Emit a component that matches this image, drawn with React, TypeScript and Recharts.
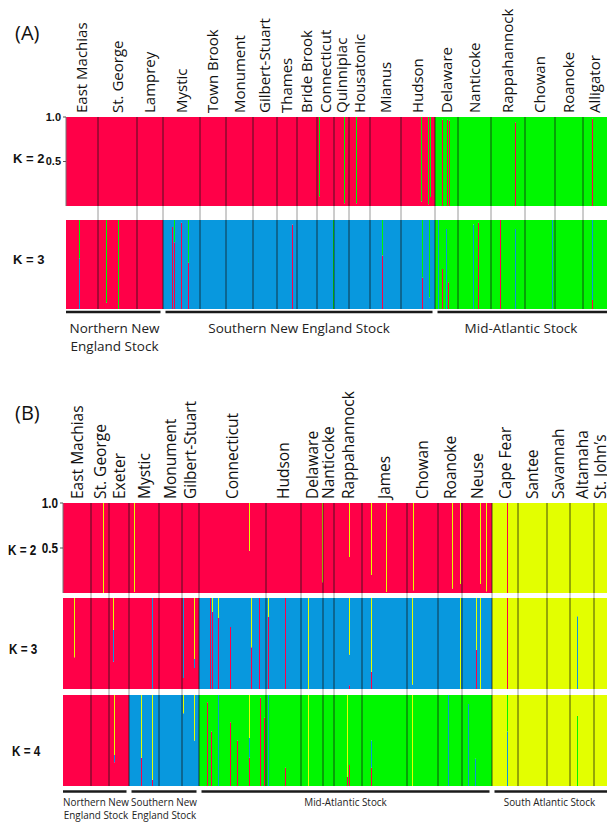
import React from 'react';
import { AreaChart, Area, XAxis, YAxis, ReferenceLine } from 'recharts';

const RED = '#FF0048';
const BLUE = '#0898DE';
const GREEN = '#00F700';
const YELLOW = '#E3FF00';

// Panel A: populations, estimated sample counts, cluster of each population per K
const popsA = ['East Machias', 'St. George', 'Lamprey', 'Mystic', 'Town Brook', 'Monument', 'Gilbert-Stuart', 'Thames', 'Bride Brook', 'Connecticut', 'Quinnipiac', 'Housatonic', 'Mianus', 'Hudson', 'Delaware', 'Nanticoke', 'Rappahannock', 'Chowan', 'Roanoke', 'Alligator'];
const sizesA = [32, 39, 26, 37, 26, 27, 24, 20, 20, 17, 15, 21, 31, 34, 23, 33, 34, 30, 28, 24];
const clusterA2 = [0, 0, 0, 0, 0, 0, 0, 0, 0, 0, 0, 0, 0, 0, 1, 1, 1, 1, 1, 1];
const clusterA3 = [0, 0, 0, 1, 1, 1, 1, 1, 1, 1, 1, 1, 1, 1, 2, 2, 2, 2, 2, 2];
// admixed individuals: [position, q1, q2, ...]
const admixA2 = [
  [253, 0.11, 0.89], [278, 0.03, 0.97], [290, 0.03, 0.97], [355, 0.05, 0.95],
  [362, 0.02, 0.98], [364, 0.1, 0.9], [376, 0.97, 0.03], [381, 0.97, 0.03],
  [383, 0.96, 0.04], [449, 0.94, 0.06], [526, 0.98, 0.02],
];
const admixA3 = [
  [13, 0, 0.57, 0.43], [40, 0.07, 0, 0.93], [52, 0, 0, 1], [106, 0.92, 0.08, 0],
  [108, 0.75, 0, 0.25], [115, 0.97, 0.03, 0], [122, 0.52, 0, 0.48], [226, 0.95, 0.05, 0],
  [267, 0, 0, 1], [316, 0.6, 0, 0.4], [356, 0.35, 0, 0.65], [363, 0, 0.13, 0.87],
  [372, 0, 1, 0], [376, 0.45, 0, 0.55], [380, 0, 0.9, 0.1], [382, 0.3, 0, 0.7],
  [407, 0, 0.95, 0.05], [412, 0.97, 0, 0.03], [434, 1, 0, 0], [449, 0, 0.9, 0.1],
  [486, 0, 1, 0], [526, 0.1, 0.9, 0],
];
const stockNamesA = ['Northern New\nEngland Stock', 'Southern New England Stock', 'Mid-Atlantic Stock'];
const stockSpansA = [[0, 3], [3, 14], [14, 20]];

// Panel B
const popsB = ['East Machias', 'St. George', 'Exeter', 'Mystic', 'Monument', 'Gilbert-Stuart', 'Connecticut', 'Hudson', 'Delaware', 'Nanticoke', 'Rappahannock', 'James', 'Chowan', 'Roanoke', 'Neuse', 'Cape Fear', 'Santee', 'Savannah', 'Altamaha', 'St. John\u2019s'];
const sizesB = [28, 18, 20, 30, 23, 17, 67, 35, 22, 11, 28, 45, 31, 24, 30, 26, 29, 23, 24, 13];
const clusterB2 = [0, 0, 0, 0, 0, 0, 0, 0, 0, 0, 0, 0, 0, 0, 0, 1, 1, 1, 1, 1];
const clusterB3 = [0, 0, 0, 0, 0, 0, 1, 1, 1, 1, 1, 1, 1, 1, 1, 2, 2, 2, 2, 2];
const clusterB4 = [0, 0, 0, 1, 1, 1, 2, 2, 2, 2, 2, 2, 2, 2, 2, 3, 3, 3, 3, 3];
const admixB2 = [
  [40, 0, 1], [71, 0.01, 0.99], [186, 0.47, 0.53], [259, 0.12, 0.88], [286, 0.4, 0.6],
  [308, 0.2, 0.8], [323, 0.01, 0.99], [350, 0.03, 0.97], [389, 0.05, 0.95],
  [397, 0.1, 0.9], [417, 0.1, 0.9], [423, 0.02, 0.98], [444, 1, 0],
];
const admixB3 = [
  [11, 0.35, 0, 0.65], [50, 0.3, 0.35, 0.35], [89, 0, 1, 0], [120, 0.12, 0.88, 0],
  [131, 0.23, 0.1, 0.67], [147, 1, 0, 0], [149, 0.85, 0, 0.15], [155, 0.78, 0, 0.22],
  [167, 0.68, 0.32, 0], [188, 0.46, 0, 0.54], [196, 1, 0, 0], [205, 0.79, 0, 0.21],
  [222, 1, 0, 0], [245, 0, 0, 1], [286, 0.04, 0.34, 0.62], [308, 0.19, 0, 0.81],
  [349, 0, 0.05, 0.95], [397, 0, 0, 1], [413, 0.43, 0, 0.57], [417, 0, 0, 1],
  [444, 1, 0, 0], [514, 0, 0.8, 0.2],
];
const admixB4 = [
  [51, 0.26, 0.08, 0, 0.66], [78, 0.31, 0, 0, 0.69], [89, 0.07, 0, 0, 0.93],
  [120, 0, 0.8, 0, 0.2], [131, 0, 0.5, 0, 0.5], [144, 0.92, 0, 0.08, 0],
  [148, 0.6, 0, 0.4, 0], [155, 0, 1, 0, 0], [167, 0.7, 0, 0.3, 0], [174, 0.5, 0, 0.5, 0],
  [186, 0.31, 0.22, 0, 0.47], [197, 0.97, 0, 0.03, 0], [201, 0.75, 0, 0.25, 0],
  [205, 0, 1, 0, 0], [222, 0.2, 0, 0.8, 0], [245, 0, 0, 0, 1], [284, 0.1, 0, 0, 0.9],
  [286, 0.23, 0, 0.77, 0], [308, 0.2, 0.3, 0.5, 0], [349, 0, 0, 0, 1],
  [385, 0, 1, 0, 0], [405, 0, 0.9, 0.1, 0], [412, 0, 0.3, 0.7, 0],
  [444, 0, 0.6, 0.4, 0], [514, 0, 0, 0.77, 0.23],
];
const stockNamesB = ['Northern New\nEngland Stock', 'Southern New\nEngland Stock', 'Mid-Atlantic Stock', 'South Atlantic Stock'];
const stockSpansB = [[0, 3], [3, 6], [6, 15], [15, 20]];

const IND_W = 1;
const LABEL_FONT = "'Open Sans', 'DejaVu Sans', sans-serif";
const SANS = "'Liberation Sans', Arial, sans-serif";

const cumulative = (sizes: number[]) =>
  sizes.reduce((acc, n) => [...acc, acc[acc.length - 1] + n], [0]);

function rowData(sizes: number[], cluster: number[], admix: number[][], k: number) {
  const starts = cumulative(sizes);
  const total = starts[starts.length - 1];
  const pure = (c: number) => Array.from({ length: k }, (_, i) => (i === c ? 1 : 0));
  const popAt = (x: number) => {
    let p = 0;
    while (p < sizes.length - 1 && starts[p + 1] <= x) p++;
    return p;
  };
  const pts: { x: number; v: number[] }[] = [];
  sizes.forEach((_, i) => pts.push({ x: starts[i], v: pure(cluster[i]) }));
  admix.forEach(([x, ...v]) => {
    pts.push({ x, v });
    pts.push({ x: x + IND_W, v: pure(cluster[popAt(x)]) });
  });
  pts.push({ x: total, v: pure(cluster[sizes.length - 1]) });
  pts.sort((a, b) => a.x - b.x);
  return pts.map((p) => {
    const row: Record<string, number> = { x: p.x };
    p.v.forEach((q, i) => (row[`c${i}`] = q));
    return row;
  });
}

type RowProps = {
  sizes: number[];
  cluster: number[];
  admix: number[][];
  colors: string[];
  chartTop: number;
  plotTop: number;
  plotBottom: number;
  plotLeft: number;
  names?: string[];
  nameSize?: number;
  yTick?: { size: number; sx: number };
  stockNames?: string[];
  stockSpans?: number[][];
  stockSpace?: number;
  stockSize?: number;
  stockLine?: number[];
  barGap?: number;
};

function StructureRow(props: RowProps) {
  const {
    sizes, cluster, admix, colors, chartTop, plotTop, plotBottom, plotLeft,
    names, nameSize = 15, yTick, stockNames, stockSpans, stockSpace = 0,
    stockSize = 13.5, stockLine = [24, 42], barGap = 3,
  } = props;
  const starts = cumulative(sizes);
  const total = starts[starts.length - 1];
  const data = rowData(sizes, cluster, admix, colors.length);
  const plotH = plotBottom - plotTop;
  const topAxisH = names ? plotTop - chartTop : 0;
  const marginTop = names ? 0 : plotTop - chartTop;
  const gapFrac = marginTop / plotH;
  const height = plotBottom - chartTop + stockSpace;
  const yW = yTick ? 24 : 0;
  const centers = sizes.map((n, i) => starts[i] + n / 2);
  const stockCenters = (stockSpans || []).map(([a, b]) => (starts[a] + starts[b]) / 2);

  const nameTick = (p: any) => {
    const i = centers.findIndex((c) => Math.abs(c - p.payload.value) < 1e-6);
    return (
      <text
        x={p.x}
        y={p.y}
        transform={`rotate(-90 ${p.x} ${p.y})`}
        textAnchor="start"
        dy="0.36em"
        fontFamily={LABEL_FONT}
        fontSize={nameSize}
        fill="#111"
      >
        {names ? names[i] : ''}
      </text>
    );
  };

  const valueTick = (p: any) => (
    <text
      transform={`translate(${p.x - 2} ${p.y}) scale(${yTick?.sx ?? 1} 1)`}
      textAnchor="end"
      dy="0.36em"
      fontFamily={SANS}
      fontWeight="bold"
      fontSize={yTick?.size}
      fill="#111"
    >
      {Number(p.payload.value).toFixed(1)}
    </text>
  );

  const stockTick = (p: any) => {
    const i = stockCenters.findIndex((c) => Math.abs(c - p.payload.value) < 1e-6);
    const lines = (stockNames ? stockNames[i] : '').split('\n');
    return (
      <text textAnchor="middle" fontFamily={LABEL_FONT} fontSize={stockSize} fill="#222">
        {lines.map((l, j) => (
          <tspan key={j} x={p.x} y={p.y + stockLine[j]}>
            {l}
          </tspan>
        ))}
      </text>
    );
  };

  return (
    <div style={{ position: 'absolute', left: 0, top: chartTop }}>
      <AreaChart
        width={607}
        height={height}
        data={data}
        margin={{ top: marginTop, right: 0, bottom: 0, left: plotLeft - yW }}
      >
        <XAxis
          dataKey="x"
          type="number"
          domain={[0, total]}
          orientation="top"
          hide={!names}
          height={topAxisH}
          ticks={centers}
          interval={0}
          axisLine={false}
          tickLine={false}
          tickSize={0}
          tickMargin={4}
          tick={nameTick}
        />
        {stockNames && (
          <XAxis
            xAxisId="stock"
            dataKey="x"
            type="number"
            domain={[0, total]}
            orientation="bottom"
            height={stockSpace}
            ticks={stockCenters}
            interval={0}
            axisLine={false}
            tickLine={false}
            tickSize={0}
            tickMargin={0}
            tick={stockTick}
          />
        )}
        <YAxis
          type="number"
          domain={[0, 1]}
          ticks={[0, 0.5, 1]}
          hide={!yTick}
          width={yW}
          tick={valueTick}
          tickSize={3}
          tickMargin={0}
          axisLine={{ stroke: '#777' }}
          tickLine={{ stroke: '#555' }}
        />
        {colors.map((c, i) => (
          <Area
            key={c}
            dataKey={`c${i}`}
            stackId="q"
            type="stepAfter"
            fill={c}
            fillOpacity={1}
            stroke="none"
            dot={false}
            activeDot={false}
            isAnimationActive={false}
          />
        ))}
        {starts.slice(1, -1).map((b) => (
          <ReferenceLine key={`b${b}`} x={b} stroke="#141414" strokeOpacity={0.75} strokeWidth={1} />
        ))}
        {marginTop > 0 &&
          starts.slice(1, -1).map((b) => (
            <ReferenceLine
              key={`g${b}`}
              segment={[{ x: b, y: 1 }, { x: b, y: 1 + gapFrac }]}
              stroke="#9a9a9a"
              strokeWidth={1}
              ifOverflow="visible"
            />
          ))}
        {stockSpans &&
          stockSpans.map(([a, b]) => {
            const x1 = a === 0 ? 0 : starts[a] + 2.5;
            const x2 = b === sizes.length ? total : starts[b] - 2.5;
            const y = -barGap / plotH;
            return (
              <ReferenceLine
                key={`s${a}`}
                segment={[{ x: x1, y }, { x: x2, y }]}
                stroke="#1a1a1a"
                strokeWidth={2.5}
                ifOverflow="visible"
              />
            );
          })}
      </AreaChart>
    </div>
  );
}

const Txt = ({ x, y, size, family, bold, sx = 1, children }: any) => (
  <div
    style={{
      position: 'absolute',
      left: x,
      top: y,
      transform: `translateY(-50%) scaleX(${sx})`,
      transformOrigin: 'left center',
      fontFamily: family,
      fontSize: size,
      fontWeight: bold ? 'bold' : 'normal',
      lineHeight: 1,
      whiteSpace: 'nowrap',
      color: '#111',
    }}
  >
    {children}
  </div>
);

export default function App() {
  return (
    <div
      style={{
        position: 'fixed',
        left: 0,
        top: 0,
        width: 607,
        height: 822,
        overflow: 'hidden',
        background: '#fff',
      }}
    >
      {/* Panel A */}
      <StructureRow
        sizes={sizesA}
        cluster={clusterA2}
        admix={admixA2}
        colors={[RED, GREEN]}
        chartTop={0}
        plotTop={117}
        plotBottom={206}
        plotLeft={66}
        names={popsA}
        nameSize={15}
        yTick={{ size: 11, sx: 1 }}
      />
      <StructureRow
        sizes={sizesA}
        cluster={clusterA3}
        admix={admixA3}
        colors={[RED, BLUE, GREEN]}
        chartTop={206}
        plotTop={220}
        plotBottom={309}
        plotLeft={66}
        stockNames={stockNamesA}
        stockSpans={stockSpansA}
        stockSpace={50}
        stockSize={13.5}
        stockLine={[24, 42]}
        barGap={3}
      />
      <Txt x={15} y={33} size={20} family={LABEL_FONT}>(A)</Txt>
      <Txt x={13} y={158} size={13} family={SANS} bold>K = 2</Txt>
      <Txt x={13} y={259} size={13} family={SANS} bold>K = 3</Txt>

      {/* Panel B */}
      <StructureRow
        sizes={sizesB}
        cluster={clusterB2}
        admix={admixB2}
        colors={[RED, YELLOW]}
        chartTop={380}
        plotTop={503}
        plotBottom={593}
        plotLeft={63}
        names={popsB}
        nameSize={15.5}
        yTick={{ size: 15, sx: 0.78 }}
      />
      <StructureRow
        sizes={sizesB}
        cluster={clusterB3}
        admix={admixB3}
        colors={[RED, BLUE, YELLOW]}
        chartTop={593}
        plotTop={598}
        plotBottom={689}
        plotLeft={63}
      />
      <StructureRow
        sizes={sizesB}
        cluster={clusterB4}
        admix={admixB4}
        colors={[RED, BLUE, GREEN, YELLOW]}
        chartTop={689}
        plotTop={695}
        plotBottom={786}
        plotLeft={63}
        stockNames={stockNamesB}
        stockSpans={stockSpansB}
        stockSpace={36}
        stockSize={9.9}
        stockLine={[20, 33]}
        barGap={5.5}
      />
      <Txt x={15} y={413} size={20} family={LABEL_FONT}>(B)</Txt>
      <Txt x={8} y={549} size={15} family={SANS} bold sx={0.78}>K = 2</Txt>
      <Txt x={9} y={648} size={15} family={SANS} bold sx={0.78}>K = 3</Txt>
      <Txt x={12} y={750} size={15} family={SANS} bold sx={0.78}>K = 4</Txt>
    </div>
  );
}
